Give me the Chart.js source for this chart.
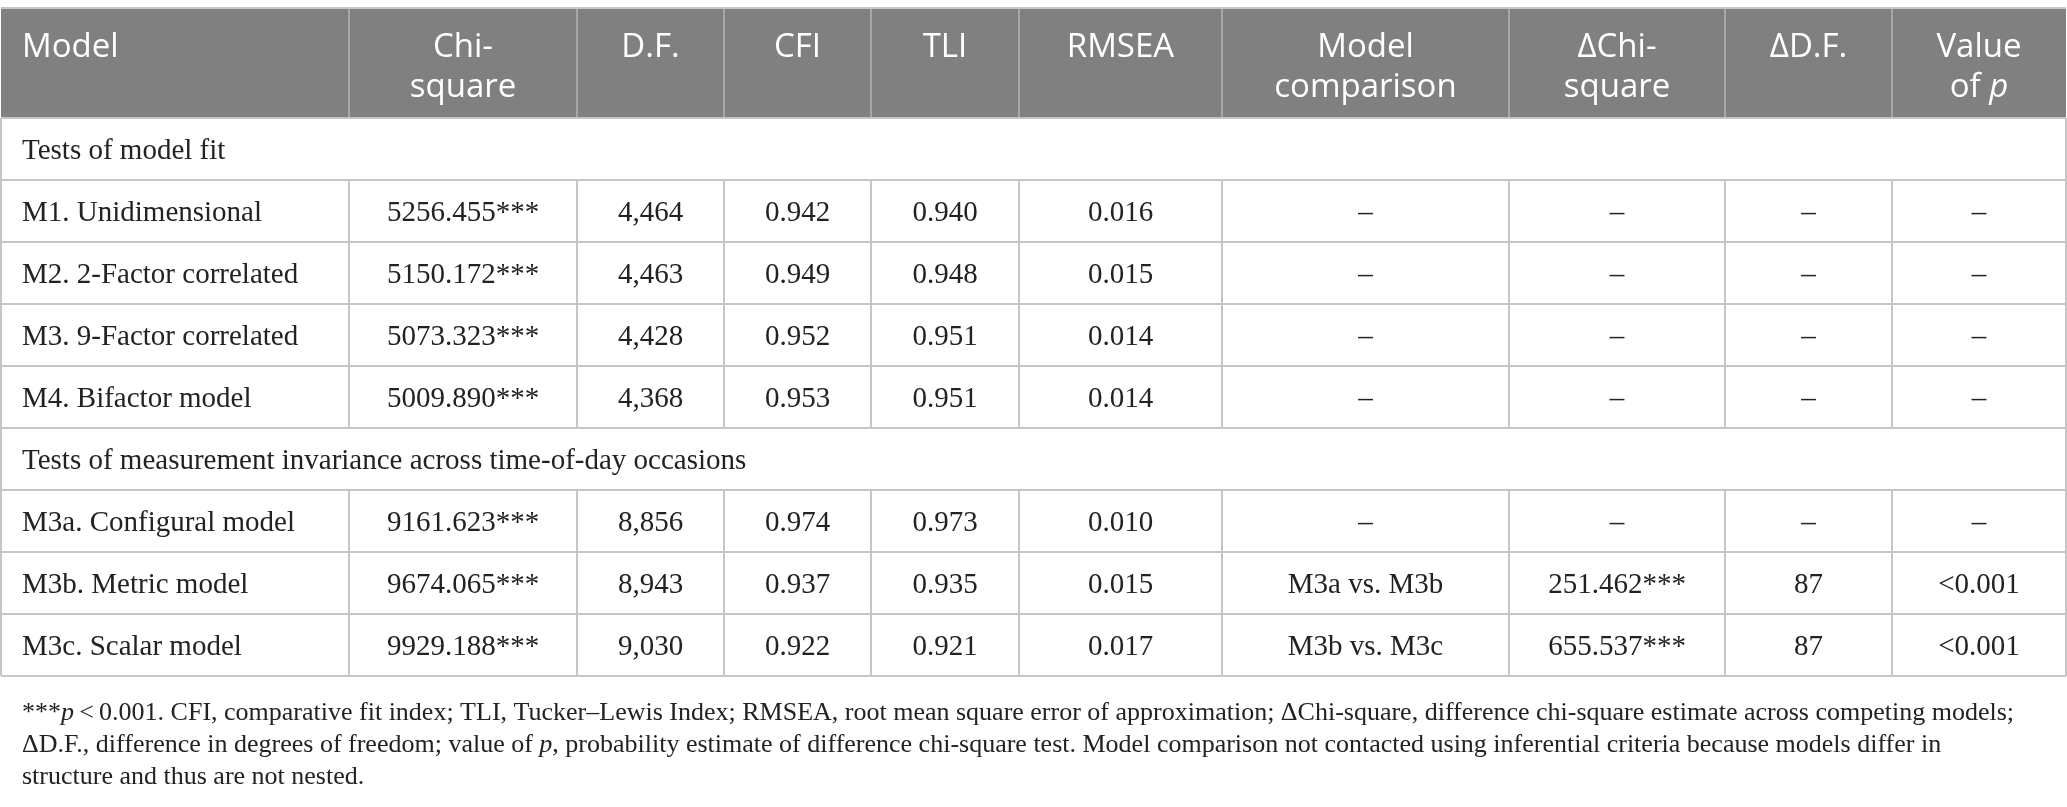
<!DOCTYPE html>
<html>
<head>
<meta charset="utf-8">
<title>Model fit table</title>
<script src="https://cdn.jsdelivr.net/npm/chart.js@4.4.1/dist/chart.umd.min.js"></script>
<style>
  html, body { margin: 0; padding: 0; background: #fff; }
  canvas { display: block; }
</style>
</head>
<body>
<canvas id="fitTable" width="2067" height="807"></canvas>
<script>
// table content (italic marked with _..._)
const headers = [['Model'], ['Chi-', 'square'], ['D.F.'], ['CFI'], ['TLI'], ['RMSEA'],
    ['Model', 'comparison'], ['ΔChi-', 'square'], ['ΔD.F.'], ['Value', 'of _p_']];
const sections = ['Tests of model fit', 'Tests of measurement invariance across time-of-day occasions'];
const sectionBefore = [0, 4];
const models = ['M1. Unidimensional', 'M2. 2-Factor correlated', 'M3. 9-Factor correlated', 'M4. Bifactor model',
    'M3a. Configural model', 'M3b. Metric model', 'M3c. Scalar model'];
const chiSquare = ['5256.455***', '5150.172***', '5073.323***', '5009.890***', '9161.623***', '9674.065***', '9929.188***'];
const df = ['4,464', '4,463', '4,428', '4,368', '8,856', '8,943', '9,030'];
const cfi = ['0.942', '0.949', '0.952', '0.953', '0.974', '0.937', '0.922'];
const tli = ['0.940', '0.948', '0.951', '0.951', '0.973', '0.935', '0.921'];
const rmsea = ['0.016', '0.015', '0.014', '0.014', '0.010', '0.015', '0.017'];
const comparison = ['–', '–', '–', '–', '–', 'M3a vs. M3b', 'M3b vs. M3c'];
const deltaChi = ['–', '–', '–', '–', '–', '251.462***', '655.537***'];
const deltaDf = ['–', '–', '–', '–', '–', '87', '87'];
const pValue = ['–', '–', '–', '–', '–', '<0.001', '<0.001'];
const footnote = [
    '***_p_\u2009<\u20090.001. CFI, comparative fit index; TLI, Tucker–Lewis Index; RMSEA, root mean square error of approximation; ΔChi-square, difference chi-square estimate across competing models;',
    'ΔD.F., difference in degrees of freedom; value of _p_, probability estimate of difference chi-square test. Model comparison not contacted using inferential criteria because models differ in',
    'structure and thus are not nested.'
];

// layout
const colEdges = [0, 348, 576, 723, 870, 1018, 1221, 1508, 1724, 1891, 2065];
const headerUnits = 110 / 62;
const headFont = '33px "Open Sans", "Noto Sans", sans-serif';
const bodySize = 29;
const noteSize = 26;
const serif = '"Liberation Serif", "DejaVu Serif", serif';

// build rows: {type:'section', text} or {type:'data', cells}
const rows = [];
models.forEach((m, i) => {
    const s = sectionBefore.indexOf(i);
    if (s >= 0) rows.push({ type: 'section', text: sections[s] });
    rows.push({ type: 'data', cells: [m, chiSquare[i], df[i], cfi[i], tli[i], rmsea[i], comparison[i], deltaChi[i], deltaDf[i], pValue[i]] });
});

// draw text with _italic_ runs, returns nothing
function runs(str) {
    return str.split('_').map((t, i) => ({ t, it: i % 2 === 1 })).filter(r => r.t.length);
}
function drawRuns(ctx, str, x, yb, size, family, align, weight) {
    const parts = runs(str);
    const fontOf = r => (r.it ? 'italic ' : '') + (weight || '') + ' ' + size + 'px ' + family;
    let w = 0;
    parts.forEach(r => { ctx.font = fontOf(r); w += ctx.measureText(r.t).width; });
    let cx = align === 'center' ? x - w / 2 : x;
    ctx.textAlign = 'left';
    parts.forEach(r => {
        ctx.font = fontOf(r);
        ctx.fillText(r.t, cx, yb);
        cx += ctx.measureText(r.t).width;
    });
}

const tablePlugin = {
    id: 'tableDraw',
    afterDraw(chart) {
        const { ctx, scales: { x, y } } = chart;
        const top = y.getPixelForValue(0);
        const headBottom = y.getPixelForValue(headerUnits);
        const rowTop = i => y.getPixelForValue(headerUnits + i);
        const bottom = rowTop(rows.length);
        const colX = c => x.getPixelForValue(colEdges[c]);
        ctx.save();

        // header background
        ctx.fillStyle = '#808080';
        ctx.fillRect(colX(0), top, colX(10) - colX(0), headBottom - top);
        ctx.strokeStyle = '#a8a8a8';
        ctx.lineWidth = 2;
        for (let c = 1; c < 10; c++) {
            ctx.beginPath();
            ctx.moveTo(colX(c), top);
            ctx.lineTo(colX(c), headBottom);
            ctx.stroke();
        }

        // body grid
        ctx.strokeStyle = '#c6c6c6';
        for (let i = 0; i <= rows.length; i++) {
            ctx.beginPath();
            ctx.moveTo(colX(0), rowTop(i));
            ctx.lineTo(colX(10), rowTop(i));
            ctx.stroke();
        }
        ctx.beginPath();
        ctx.moveTo(colX(0), top);
        ctx.lineTo(colX(10), top);
        ctx.stroke();
        [0, 10].forEach(c => {
            ctx.beginPath();
            ctx.moveTo(colX(c), headBottom);
            ctx.lineTo(colX(c), bottom);
            ctx.stroke();
        });
        rows.forEach((r, i) => {
            if (r.type !== 'data') return;
            for (let c = 1; c < 10; c++) {
                ctx.beginPath();
                ctx.moveTo(colX(c), rowTop(i));
                ctx.lineTo(colX(c), rowTop(i + 1));
                ctx.stroke();
            }
        });

        // header text
        ctx.fillStyle = '#ffffff';
        headers.forEach((lines, c) => {
            lines.forEach((ln, k) => {
                const yb = top + 49 + k * 40;
                if (c === 0) drawRuns(ctx, ln, colX(0) + 21, yb, 33, '"Open Sans", "Noto Sans", sans-serif', 'left');
                else drawRuns(ctx, ln, (colX(c) + colX(c + 1)) / 2, yb, 33, '"Open Sans", "Noto Sans", sans-serif', 'center');
            });
        });

        // body text
        ctx.fillStyle = '#222222';
        rows.forEach((r, i) => {
            const yb = (rowTop(i) + rowTop(i + 1)) / 2 + 10;
            if (r.type === 'section') {
                drawRuns(ctx, r.text, colX(0) + 21, yb, bodySize, serif, 'left');
            } else {
                r.cells.forEach((t, c) => {
                    if (c === 0) drawRuns(ctx, t, colX(0) + 21, yb, bodySize, serif, 'left');
                    else drawRuns(ctx, t, (colX(c) + colX(c + 1)) / 2, yb, bodySize, serif, 'center');
                });
            }
        });

        // footnote
        footnote.forEach((ln, k) => {
            drawRuns(ctx, ln, colX(0) + 21, bottom + 44 + k * 32, noteSize, serif, 'left');
        });
        ctx.restore();
    }
};

new Chart(document.getElementById('fitTable'), {
    type: 'scatter',
    data: { datasets: [] },
    options: {
        responsive: false,
        animation: false,
        devicePixelRatio: 1,
        layout: { padding: { left: 1, right: 1, top: 8, bottom: 131 } },
        plugins: { legend: { display: false }, tooltip: { enabled: false } },
        scales: {
            x: { type: 'linear', display: false, min: colEdges[0], max: colEdges[colEdges.length - 1] },
            y: { type: 'linear', display: false, reverse: true, min: 0, max: headerUnits + rows.length }
        }
    },
    plugins: [tablePlugin]
});
</script>
</body>
</html>
